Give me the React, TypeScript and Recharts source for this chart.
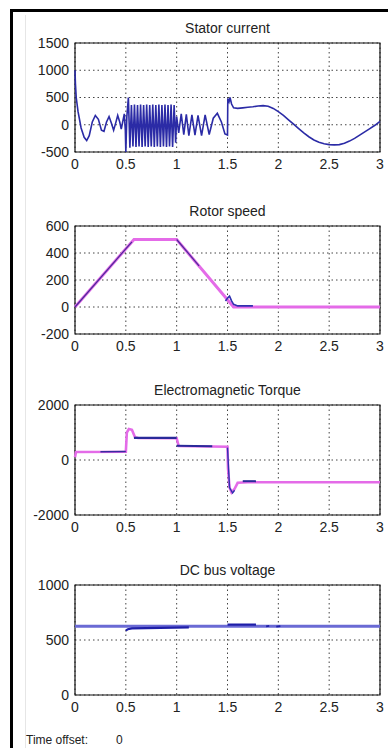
import React from "react";
import {
  LineChart,
  Line,
  XAxis,
  YAxis,
  CartesianGrid,
  ReferenceArea,
} from "recharts";

// time ticks shared by all four scopes
const TIME_TICKS = [0, 0.5, 1, 1.5, 2, 2.5, 3];

// Stator current [t, A]
const statorStart = [
  [0, 1000], [0.004, 760], [0.012, 500], [0.03, 240], [0.06, -60], [0.09, -230],
  [0.115, -290], [0.14, -200], [0.17, 50], [0.2, 170], [0.23, 100], [0.26, -100],
  [0.285, -120], [0.31, 50], [0.335, 150], [0.36, 20], [0.38, -100], [0.4, 30],
  [0.42, 170], [0.44, 50], [0.455, -80], [0.47, 60], [0.485, 200], [0.495, -100],
];
const statorBurst = [
  [0.5, -500], [0.51, 150], [0.525, 500], [0.54, -420], [0.555, 360], [0.57, -400],
  [0.585, 370], [0.6, -410], [0.615, 360], [0.63, -400], [0.645, 370], [0.66, -410],
  [0.675, 360], [0.69, -400], [0.705, 370], [0.72, -410], [0.735, 360], [0.75, -400],
  [0.765, 370], [0.78, -410], [0.795, 360], [0.81, -400], [0.825, 370], [0.84, -410],
  [0.855, 360], [0.87, -400], [0.885, 370], [0.9, -410], [0.915, 360], [0.93, -400],
  [0.945, 370], [0.96, -410], [0.975, 360], [0.99, -330],
];
const statorMid = [
  [1.0, 150], [1.02, -150], [1.045, 200], [1.07, -180], [1.095, 190], [1.12, -200],
  [1.15, 180], [1.18, -190], [1.21, 170], [1.245, -200], [1.28, 180], [1.32, -180],
  [1.36, 120], [1.4, 210], [1.44, 50], [1.475, -170], [1.5, -190],
];
const statorTail = [
  [1.503, 480], [1.515, 420], [1.525, 500], [1.54, 380], [1.56, 310], [1.6, 300],
  [1.65, 310], [1.7, 320], [1.75, 330], [1.8, 345], [1.85, 350], [1.9, 340],
  [1.95, 300], [2.0, 240], [2.05, 170], [2.1, 90], [2.15, 10], [2.2, -70],
  [2.25, -150], [2.3, -220], [2.35, -280], [2.4, -320], [2.45, -350], [2.5, -365],
  [2.55, -370], [2.6, -365], [2.65, -340], [2.7, -300], [2.75, -250], [2.8, -190],
  [2.85, -130], [2.9, -70], [2.95, -10], [3.0, 60],
];

// Rotor speed [t, rad/s]
const speedRef = [[0, 0], [0.58, 500], [1.0, 500], [1.56, 0], [3, 0]];
const speedRise = [[0, 0], [0.56, 483]];
const speedFall = [[1.0, 500], [1.22, 305]];
const speedStop = [
  [1.48, 45], [1.505, 70], [1.52, 80], [1.54, 45], [1.56, 20], [1.6, 8], [1.75, 8],
];

// Electromagnetic torque [t, N.m]
const torqueRef = [
  [0, 100], [0.01, 290], [0.5, 300], [0.51, 1000], [0.53, 1130], [0.56, 1100],
  [0.59, 830], [0.62, 800], [1.0, 790], [1.02, 510], [1.5, 480], [1.505, -300],
  [1.52, -1000], [1.54, -1180], [1.57, -1050], [1.6, -830], [1.7, -810], [3, -810],
];
const torqueLow = [[0.25, 300], [0.5, 310]];
const torqueHigh = [[0.58, 805], [1.0, 805]];
const torqueMid = [[1.0, 520], [1.35, 500]];
const torqueDip = [[1.5, 450], [1.52, -1000], [1.55, -1200], [1.57, -1100]];
const torqueNeg = [[1.65, -770], [1.78, -770]];

// DC bus voltage [t, V]
const dcRef = [[0, 625], [3, 625]];
const dcLow = [[0.5, 585], [0.52, 598], [0.56, 605], [1.12, 615]];
const dcHigh = [[1.5, 640], [1.78, 640]];
const dcBlipA = [[1.88, 624], [1.91, 628]];
const dcBlipB = [[1.98, 622], [2.02, 626]];

const toPts = (arr: number[][]) => arr.map(([t, v]) => ({ t, v }));

const BLUE = "#2b2ba6";
const MAGENTA = "#e46be8";
const FONT = "'Liberation Sans', Arial, Helvetica, sans-serif";

type Series = { data: number[][]; color: string; width: number };

const Panel = ({
  title,
  top,
  plotH,
  domain,
  ticks,
  series,
}: {
  title: string;
  top: number;
  plotH: number;
  domain: [number, number];
  ticks: number[];
  series: Series[];
}) => {
  const H = plotH + 38;
  return (
    <>
      <div
        style={{
          position: "absolute",
          left: 75,
          width: 305,
          top: top - 8 - 15,
          textAlign: "center",
          fontSize: 14,
          lineHeight: "16px",
          color: "#222",
          fontFamily: FONT,
        }}
      >
        {title}
      </div>
      <div style={{ position: "absolute", left: 0, top: top - 10 }}>
        <LineChart
          width={388}
          height={H}
          margin={{ top: 10, right: 8, bottom: 0, left: 0 }}
        >
          <CartesianGrid
            stroke="#444"
            strokeDasharray="1.5 3"
            horizontalValues={ticks}
            verticalValues={TIME_TICKS}
          />
          <XAxis
            dataKey="t"
            type="number"
            domain={[0, 3]}
            ticks={TIME_TICKS}
            interval={0}
            allowDuplicatedCategory={false}
            height={28}
            tickLine={false}
            axisLine={false}
            tickSize={3}
            tickMargin={4}
            tick={{ fill: "#222", fontSize: 14, fontFamily: FONT }}
          />
          <YAxis
            type="number"
            domain={domain}
            ticks={ticks}
            interval={0}
            width={75}
            tickLine={false}
            axisLine={false}
            tickSize={4}
            tickMargin={2}
            tick={{ fill: "#222", fontSize: 14, fontFamily: FONT }}
          />
          {series.map((s, i) => (
            <Line
              key={i}
              data={toPts(s.data)}
              dataKey="v"
              type="linear"
              stroke={s.color}
              strokeWidth={s.width}
              dot={false}
              isAnimationActive={false}
            />
          ))}
          <ReferenceArea
            x1={0}
            x2={3}
            y1={domain[0]}
            y2={domain[1]}
            fill="none"
            stroke="#111"
            strokeWidth={1.2}
            ifOverflow="visible"
          />
        </LineChart>
      </div>
    </>
  );
};

export default function App() {
  return (
    <div
      style={{
        position: "fixed",
        left: 0,
        top: 0,
        width: 388,
        height: 748,
        background: "#fff",
        overflow: "hidden",
      }}
    >
      {/* scope window frame */}
      <div style={{ position: "absolute", left: 10, top: 9, width: 378, height: 2.5, background: "#000" }} />
      <div style={{ position: "absolute", left: 10, top: 9, width: 2.5, height: 739, background: "#000" }} />
      <div style={{ position: "absolute", left: 25, top: 15, width: 1, height: 733, background: "#e6e6e6" }} />

      <Panel
        title="Stator current"
        top={43}
        plotH={109}
        domain={[-500, 1500]}
        ticks={[-500, 0, 500, 1000, 1500]}
        series={[
          { data: [...statorStart, ...statorBurst, ...statorMid, ...statorTail], color: BLUE, width: 1.6 },
        ]}
      />
      <Panel
        title="Rotor speed"
        top={226}
        plotH={108}
        domain={[-200, 600]}
        ticks={[-200, 0, 200, 400, 600]}
        series={[
          { data: speedRef, color: MAGENTA, width: 3 },
          { data: speedRise, color: "#4a2a9a", width: 1.2 },
          { data: speedFall, color: "#4a2a9a", width: 1.2 },
          { data: speedStop, color: "#3030b0", width: 1.6 },
        ]}
      />
      <Panel
        title="Electromagnetic Torque"
        top={405}
        plotH={110}
        domain={[-2000, 2000]}
        ticks={[-2000, 0, 2000]}
        series={[
          { data: torqueRef, color: MAGENTA, width: 2.6 },
          { data: torqueLow, color: "#3a2aa0", width: 1.6 },
          { data: torqueHigh, color: "#2a2a9a", width: 2.4 },
          { data: torqueMid, color: "#2a2a9a", width: 2 },
          { data: torqueDip, color: "#3030b0", width: 1.4 },
          { data: torqueNeg, color: "#2a2a9a", width: 2 },
        ]}
      />
      <Panel
        title="DC bus voltage"
        top={585}
        plotH={110}
        domain={[0, 1000]}
        ticks={[0, 500, 1000]}
        series={[
          { data: dcRef, color: "#6a6ad4", width: 3 },
          { data: dcLow, color: "#1e1ea8", width: 2.2 },
          { data: dcHigh, color: "#1e1ea8", width: 2.2 },
          { data: dcBlipA, color: "#1e1ea8", width: 1.8 },
          { data: dcBlipB, color: "#1e1ea8", width: 1.8 },
        ]}
      />

      <div
        style={{
          position: "absolute",
          left: 26,
          top: 734,
          fontSize: 12,
          lineHeight: "13px",
          color: "#222",
          fontFamily: FONT,
        }}
      >
        Time offset:
      </div>
      <div
        style={{
          position: "absolute",
          left: 116,
          top: 734,
          fontSize: 12,
          lineHeight: "13px",
          color: "#222",
          fontFamily: FONT,
        }}
      >
        0
      </div>
    </div>
  );
}
